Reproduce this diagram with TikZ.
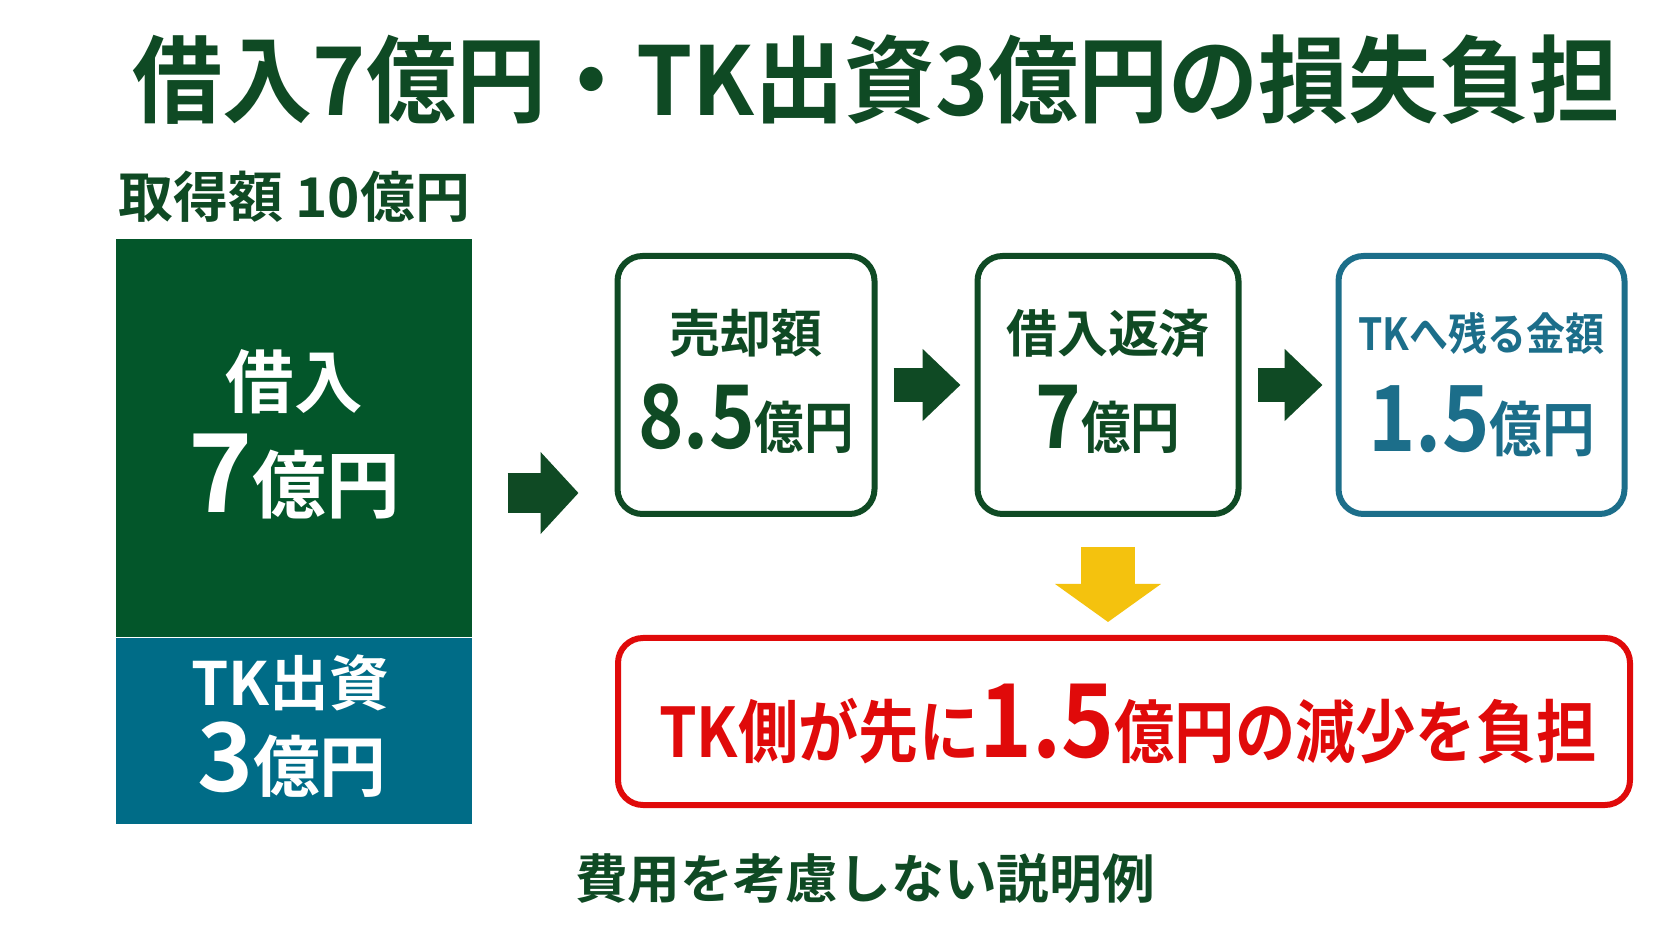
\documentclass[tikz,border=0pt]{standalone}
\usepackage{fontspec}
\setmainfont{Noto Sans CJK JP Bold}
\newfontfamily\narrowjp{Noto Sans CJK JP Bold}[FakeStretch=0.88]
\newfontfamily\titlejp{Noto Sans CJK JP Bold}[FakeStretch=0.95]
\usetikzlibrary{arrows.meta}
\usetikzlibrary{positioning}

\definecolor{titlegreen}{HTML}{0F4A24}
\definecolor{loangreen}{HTML}{03562A}
\definecolor{tkteal}{HTML}{006C87}
\definecolor{tkblue}{HTML}{1C6E8A}
\definecolor{lossred}{HTML}{E00A0A}
\definecolor{downyellow}{HTML}{F4C20E}
\newcommand{\sz}[1]{\fontsize{#1}{#1}\selectfont}

\tikzset{
  flowbox/.style={draw=titlegreen, line width=0.06cm, rounded corners=0.25cm,
    minimum width=2.57cm, minimum height=2.58cm, inner sep=0pt},
  blockarrow/.style={line width=0.34cm, titlegreen,
    -{Triangle[length=0.38cm, width=0.70cm]}},
  boxline/.style={titlegreen, inner sep=0pt},
  barline/.style={white, inner sep=0pt}
}

\begin{document}
\begin{tikzpicture}
        \useasboundingbox (0,0) rectangle (16.72,9.41);
        \fill[white] (0,0) rectangle (16.72,9.41);
        % title and heading
        \node[titlegreen, inner sep=0pt] (title) at (8.76,8.61) {\titlejp\sz{27pt}借入7億円・TK出資3億円の損失負担};
        \node[titlegreen, anchor=west, inner sep=0pt] (total) at (1.18,7.44) {\sz{15.6pt}取得額 10億円};
        % stacked bar
        \node[fill=loangreen, minimum width=3.56cm, minimum height=3.98cm, inner sep=0pt] (loan) at (2.94,5.03) {};
        \node[fill=tkteal, minimum width=3.56cm, minimum height=1.86cm, inner sep=0pt, below=0pt of loan] (equity) {};
        \node[barline] (loantop) at (2.94,5.59) {\sz{19.5pt}借入};
        \node[barline] (loanval) at (2.94,4.64) {\sz{31pt}7\sz{21pt}億円};
        \node[barline] (equitytop) at (2.90,2.58) {\sz{17pt}TK出資};
        \node[barline] (equityval) at (2.92,1.81) {\sz{27pt}3\sz{19pt}億円};
        % flow boxes
        \node[flowbox] (sale) at (7.46,5.56) {};
        \node[flowbox, minimum width=2.61cm, right=0.97cm of sale] (repay) {};
        \node[flowbox, draw=tkblue, minimum width=2.86cm, right=0.94cm of repay] (remain) {};
        \node[boxline] (saletop) at ([yshift=0.52cm]sale.center) {\sz{14.5pt}売却額};
        \node[boxline] (saleval) at ([yshift=-0.34cm]sale.center) {\narrowjp\sz{25pt}8.5\sz{16pt}億円};
        \node[boxline] (repaytop) at ([yshift=0.52cm]repay.center) {\sz{14.5pt}借入返済};
        \node[boxline] (repayval) at ([yshift=-0.34cm]repay.center) {\narrowjp\sz{25pt}7\sz{16pt}億円};
        \node[boxline, tkblue] (remaintop) at ([yshift=0.52cm]remain.center) {\narrowjp\sz{12.6pt}TKへ残る金額};
        \node[boxline, tkblue] (remainval) at ([yshift=-0.36cm]remain.center) {\narrowjp\sz{26pt}1.5\sz{17pt}億円};
        % result
        \node[draw=lossred, line width=0.06cm, rounded corners=0.25cm, minimum width=10.12cm, minimum height=1.67cm] (result) at (11.24,2.195) {};
        \node[lossred, inner sep=0pt] (resulttext) at (11.28,2.17) {\narrowjp\sz{19.5pt}TK側が先に\sz{29pt}1.5\sz{19.5pt}億円の減少を負担};
        \node[titlegreen, inner sep=0pt] (note) at (8.65,0.62) {\sz{15pt}費用を考慮しない説明例};
        % arrows
        \coordinate (arrowlevel) at (0,4.48);
        \draw[blockarrow, line width=0.40cm, -{Triangle[length=0.38cm, width=0.80cm]}, shorten <=0.35cm, shorten >=0.36cm]
            (loan.east |- arrowlevel) -- (sale.west |- arrowlevel);
        \draw[blockarrow, shorten <=0.16cm, shorten >=0.14cm] (sale) -- (repay);
        \draw[blockarrow, shorten <=0.16cm, shorten >=0.13cm] (repay) -- (remain);
        \draw[downyellow, line width=0.54cm, -{Triangle[length=0.38cm, width=1.04cm]}, shorten <=0.30cm, shorten >=0.13cm]
            (repay.south) -- (repay.south |- result.north);
\end{tikzpicture}
\end{document}
